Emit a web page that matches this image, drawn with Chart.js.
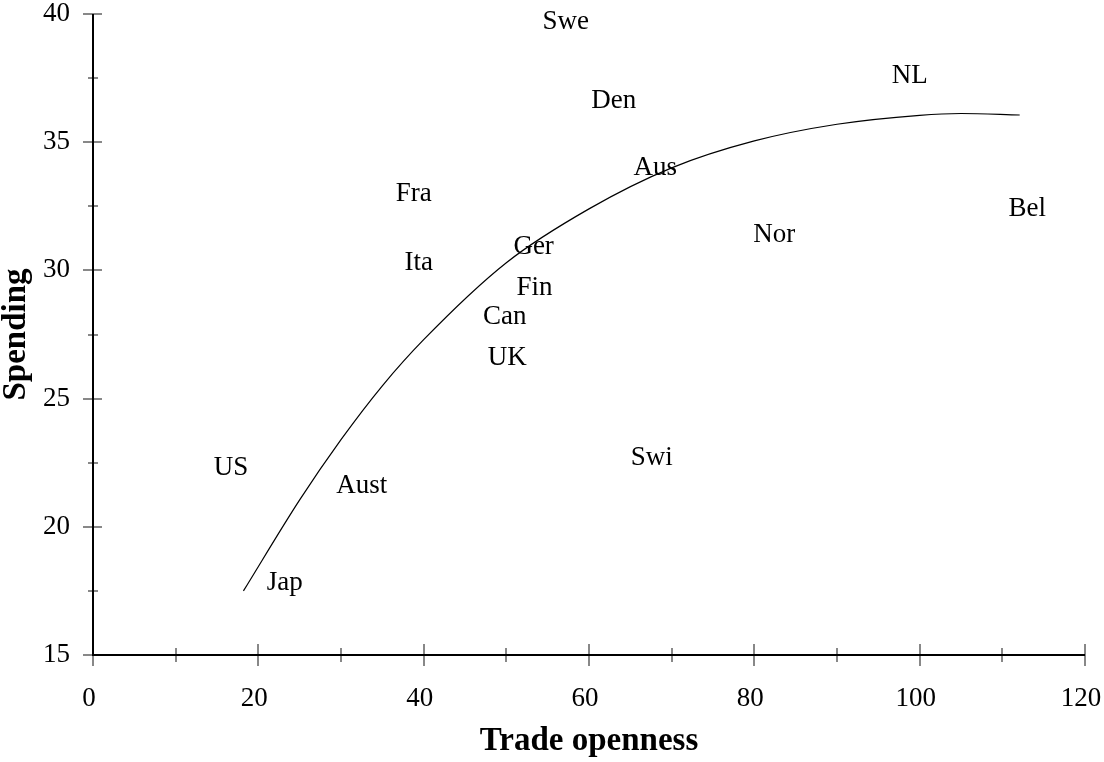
<!DOCTYPE html>
<html lang="en">
<head>
  <meta charset="UTF-8">
  <title>Spending vs trade openness</title>
  <script src="https://cdn.jsdelivr.net/npm/chart.js@4/dist/chart.umd.min.js"></script>
  <style>
    html, body { margin: 0; padding: 0; background: #fff; }
    #wrap { width: 1104px; height: 762px; }
  </style>
</head>
<body>
  <div id="wrap"><canvas id="chart" width="1104" height="762"></canvas></div>

  <script>
    // country labels, placed at (openness, spending)
    var countries = ["Swe", "Den", "NL", "Aus", "Fra", "Bel", "Nor", "Ger", "Ita", "Fin",
                     "Can", "UK", "Swi", "US", "Aust", "Jap"];
    var openness = [57.2, 63.0, 98.8, 68.0, 38.8, 113.0, 82.4, 53.3, 39.4, 53.4,
                    49.8, 50.1, 67.6, 16.7, 32.5, 23.2];
    var spending = [39.7, 36.6, 37.6, 34.0, 33.0, 32.4, 31.4, 30.9, 30.3, 29.3,
                    28.2, 26.6, 22.7, 22.3, 21.6, 17.8];

    // fitted curve
    var fitX = [18.2, 25, 30, 35, 40, 50, 60, 70, 80, 90, 100, 105, 112.1];
    var fitY = [17.5, 21.05, 23.4, 25.5, 27.3, 30.3, 32.4, 34.0, 35.05, 35.7, 36.05, 36.12, 36.06];

    var xTickValues = [0, 20, 40, 60, 80, 100, 120];
    var yTickValues = [15, 20, 25, 30, 35, 40];

    var serif = "'Liberation Serif', 'Times New Roman', serif";

    var pointData = openness.map(function (x, i) { return { x: x, y: spending[i] }; });
    var fitData = fitX.map(function (x, i) { return { x: x, y: fitY[i] }; });

    // country names instead of point markers
    var textLabels = {
      id: "textLabels",
      afterDatasetsDraw: function (chart) {
        var ctx = chart.ctx;
        var meta = chart.getDatasetMeta(0);
        ctx.save();
        ctx.fillStyle = "#000";
        ctx.font = "27px " + serif;
        ctx.textAlign = "center";
        ctx.textBaseline = "middle";
        meta.data.forEach(function (el, i) {
          ctx.fillText(countries[i], el.x, el.y);
        });
        ctx.restore();
      }
    };

    // axis lines with ticks crossing them, major and minor
    var crossTicks = {
      id: "crossTicks",
      afterDraw: function (chart) {
        var ctx = chart.ctx;
        var xs = chart.scales.x, ys = chart.scales.y;
        var x0 = xs.getPixelForValue(0), y0 = ys.getPixelForValue(15);
        ctx.save();
        ctx.strokeStyle = "#888";
        ctx.lineWidth = 2;
        for (var v = 0; v <= 120; v += 10) {
          var px = Math.round(xs.getPixelForValue(v));
          var len = v % 20 === 0 ? 11 : 7;
          ctx.beginPath();
          ctx.moveTo(px, y0 - len);
          ctx.lineTo(px, y0 + len);
          ctx.stroke();
        }
        for (var w = 15; w <= 40; w += 2.5) {
          var py = Math.round(ys.getPixelForValue(w));
          var l = w % 5 === 0 ? 10 : 5;
          ctx.beginPath();
          ctx.moveTo(x0 - l, py);
          ctx.lineTo(x0 + (w % 5 === 0 ? 9 : 5), py);
          ctx.stroke();
        }
        ctx.strokeStyle = "#000";
        ctx.lineWidth = 2;
        ctx.beginPath();
        ctx.moveTo(x0, ys.getPixelForValue(40));
        ctx.lineTo(x0, y0);
        ctx.lineTo(xs.getPixelForValue(120), y0);
        ctx.stroke();
        ctx.restore();
      }
    };

    new Chart("chart", {
      type: "scatter",
      data: {
        datasets: [{
          data: pointData,
          pointRadius: 0,
          pointHoverRadius: 0
        }, {
          type: "line",
          data: fitData,
          borderColor: "#000",
          borderWidth: 1.2,
          pointRadius: 0,
          fill: false,
          cubicInterpolationMode: "monotone"
        }]
      },
      options: {
        responsive: false,
        animation: false,
        events: [],
        layout: { padding: { left: 0, right: 19, top: 14, bottom: 0 } },
        plugins: {
          legend: { display: false },
          tooltip: { enabled: false }
        },
        scales: {
          x: {
            type: "linear",
            min: 0,
            max: 120,
            afterBuildTicks: function (scale) {
              scale.ticks = xTickValues.map(function (v) { return { value: v }; });
            },
            afterFit: function (scale) {
              scale.height = 107;
              scale.paddingLeft = 0;
              scale.paddingRight = 0;
            },
            grid: { display: false, drawTicks: false },
            border: { display: false },
            ticks: {
              color: "#000",
              padding: 28,
              labelOffset: -4,
              maxRotation: 0,
              font: { family: serif, size: 27 }
            },
            title: {
              display: true,
              text: "Trade openness",
              color: "#000",
              padding: { top: 0, bottom: 4 },
              font: { family: serif, size: 33, weight: "bold", lineHeight: 1 }
            }
          },
          y: {
            type: "linear",
            min: 15,
            max: 40,
            afterBuildTicks: function (scale) {
              scale.ticks = yTickValues.map(function (v) { return { value: v }; });
            },
            afterFit: function (scale) {
              scale.width = 93;
              scale.paddingTop = 0;
              scale.paddingBottom = 0;
            },
            grid: { display: false, drawTicks: false },
            border: { display: false },
            ticks: {
              color: "#000",
              padding: 23,
              font: { family: serif, size: 27 }
            },
            title: {
              display: true,
              text: "Spending",
              color: "#000",
              padding: { top: 0, bottom: 0 },
              font: { family: serif, size: 33, weight: "bold", lineHeight: 1 }
            }
          }
        }
      },
      plugins: [textLabels, crossTicks]
    });
  </script>
</body>
</html>
